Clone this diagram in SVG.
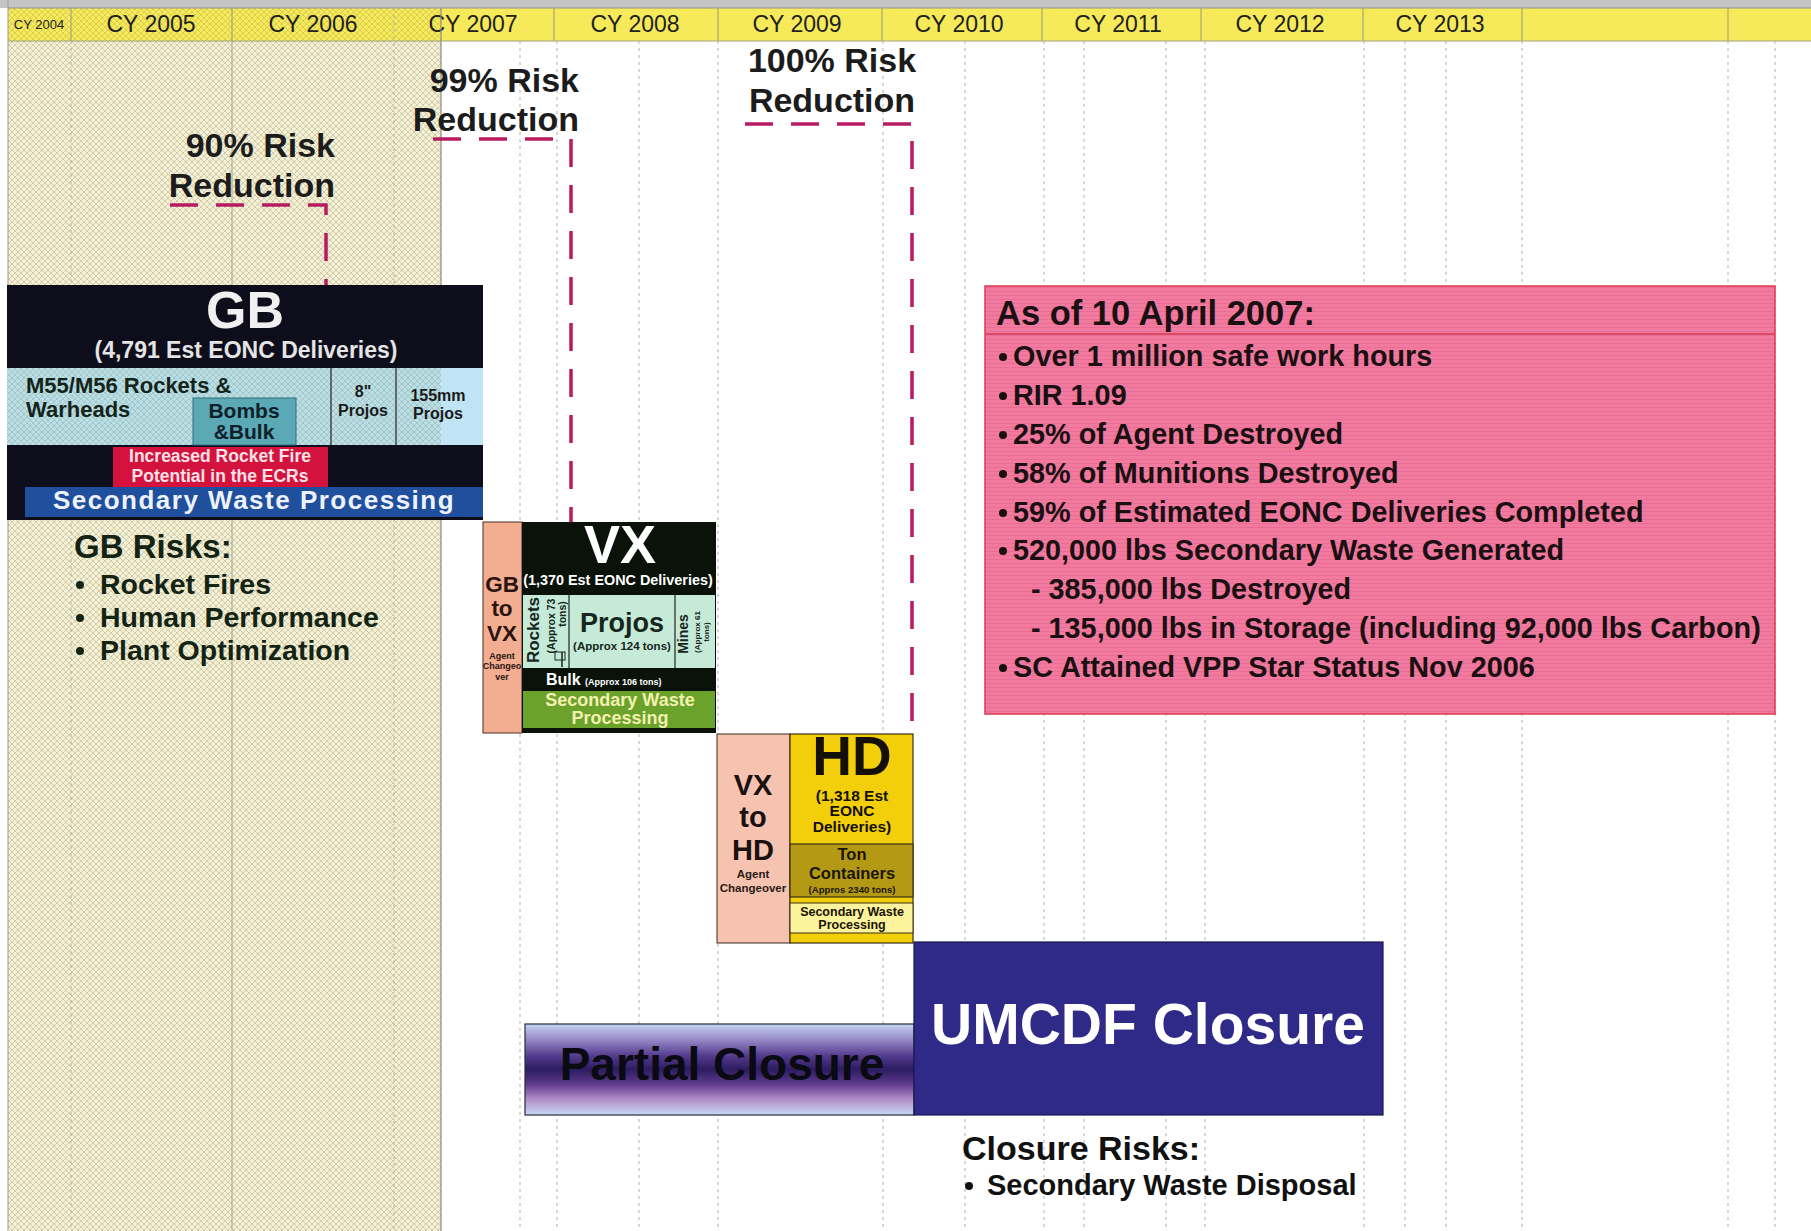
<svg xmlns="http://www.w3.org/2000/svg" width="1811" height="1231" viewBox="0 0 1811 1231">
<defs>
<pattern id="hatch" width="6" height="6" patternUnits="userSpaceOnUse"><rect width="6" height="6" fill="#f3f0d6"/><path d="M0 0L6 6M6 0L0 6" stroke="#cfcaa6" stroke-width="0.9"/></pattern>
<pattern id="hatchOver" width="6" height="6" patternUnits="userSpaceOnUse"><path d="M0 0L6 6M6 0L0 6" stroke="#000" stroke-opacity="0.13" stroke-width="0.9"/></pattern>
<pattern id="pinkTex" width="8" height="4" patternUnits="userSpaceOnUse"><rect width="8" height="4" fill="#f17a9e"/><rect y="3" width="8" height="1" fill="#e86e98"/></pattern>
<linearGradient id="partialGrad" x1="0" y1="0" x2="0" y2="1">
<stop offset="0" stop-color="#c4d4f2"/>
<stop offset="0.18" stop-color="#9484c4"/>
<stop offset="0.36" stop-color="#50388a"/>
<stop offset="0.5" stop-color="#2c1c60"/>
<stop offset="0.66" stop-color="#5e3a8e"/>
<stop offset="0.82" stop-color="#b08ac4"/>
<stop offset="1" stop-color="#c8daf4"/>
</linearGradient>
<style>
.b{font-family:"Liberation Sans",Arial,sans-serif;font-weight:bold}
.r{font-family:"Liberation Sans",Arial,sans-serif}
.m{text-anchor:middle}
.e{text-anchor:end}
.hdr{font-size:23px;fill:#222}
.grid{stroke:#b0b0b0;stroke-width:1;stroke-dasharray:3 4;fill:none}
.col{stroke:#9a9a80;stroke-width:1}
.risk{stroke:#b81a62;stroke-width:3.5;stroke-dasharray:28 18;fill:none}
.rlabel{font-size:34px;fill:#1c1c1c}
.pk{font-size:28.8px;fill:#1a1012}
.div{stroke:#222;stroke-width:1.2}
</style>
</defs>
<rect width="1811" height="1231" fill="#ffffff"/>
<rect x="8" y="41" width="433" height="1190" fill="url(#hatch)"/>
<g id="header">
<rect x="0" y="0" width="1811" height="8" fill="#c4c4c4"/>
<rect x="8" y="8" width="1803" height="33" fill="#f6ea5a"/>
<rect x="8" y="8" width="433" height="33" fill="url(#hatchOver)"/>
<line x1="8" y1="41" x2="1811" y2="41" stroke="#a0a080" stroke-width="1.2"/>
<line x1="8" y1="8" x2="1811" y2="8" stroke="#909090" stroke-width="1"/>
<g class="col">
<line x1="71" y1="8" x2="71" y2="41"/><line x1="232" y1="8" x2="232" y2="41"/>
<line x1="554" y1="8" x2="554" y2="41"/><line x1="718" y1="8" x2="718" y2="41"/>
<line x1="882" y1="8" x2="882" y2="41"/><line x1="1042" y1="8" x2="1042" y2="41"/>
<line x1="1201" y1="8" x2="1201" y2="41"/><line x1="1363" y1="8" x2="1363" y2="41"/>
<line x1="1522" y1="8" x2="1522" y2="41"/><line x1="1728" y1="8" x2="1728" y2="41"/>
</g>
<text x="39" y="29" class="r m" font-size="13" fill="#222">CY 2004</text>
<text x="151" y="32" class="r m hdr">CY 2005</text>
<text x="313" y="32" class="r m hdr">CY 2006</text>
<text x="473" y="32" class="r m hdr">CY 2007</text>
<text x="635" y="32" class="r m hdr">CY 2008</text>
<text x="797" y="32" class="r m hdr">CY 2009</text>
<text x="959" y="32" class="r m hdr">CY 2010</text>
<text x="1118" y="32" class="r m hdr">CY 2011</text>
<text x="1280" y="32" class="r m hdr">CY 2012</text>
<text x="1440" y="32" class="r m hdr">CY 2013</text>
</g>
<g id="gridlines">
<line x1="8" y1="0" x2="8" y2="1231" stroke="#9a9a9a" stroke-width="1"/>
<line x1="441" y1="8" x2="441" y2="1231" stroke="#8a8a80" stroke-width="1.2"/>
<line x1="232" y1="41" x2="232" y2="1231" stroke="#a8a490" stroke-width="1"/>
<line x1="71" y1="41" x2="71" y2="1231" class="grid"/>
<line x1="394" y1="8" x2="394" y2="1231" class="grid"/>
<g class="grid">
<line x1="520" y1="41" x2="520" y2="1231"/><line x1="557" y1="41" x2="557" y2="1231"/>
<line x1="639" y1="41" x2="639" y2="1231"/><line x1="718" y1="41" x2="718" y2="1231"/>
<line x1="883" y1="41" x2="883" y2="1231"/><line x1="965" y1="41" x2="965" y2="1231"/>
<line x1="1044" y1="41" x2="1044" y2="1231"/><line x1="1084" y1="41" x2="1084" y2="1231"/>
<line x1="1166" y1="41" x2="1166" y2="1231"/><line x1="1205" y1="41" x2="1205" y2="1231"/>
<line x1="1364" y1="41" x2="1364" y2="1231"/><line x1="1405" y1="41" x2="1405" y2="1231"/>
<line x1="1446" y1="41" x2="1446" y2="1231"/><line x1="1522" y1="41" x2="1522" y2="1231"/>
<line x1="1728" y1="41" x2="1728" y2="1231"/><line x1="1775" y1="41" x2="1775" y2="1231"/>
</g>
</g>
<g id="connectors">
<polyline class="risk" points="170,205 326,205 326,285"/>
<polyline class="risk" points="433,139 571,139 571,522"/>
<polyline class="risk" points="745,124 912,124 912,734"/>
</g>
<g id="label-90">
<text x="335" y="157" class="b e rlabel" fill="#1a2a1a">90% Risk</text>
<text x="335" y="197" class="b e rlabel" fill="#1a2a1a">Reduction</text>
</g>
<g id="label-99">
<text x="579" y="92" class="b e rlabel">99% Risk</text>
<text x="579" y="131" class="b e rlabel">Reduction</text>
</g>
<g id="label-100">
<text x="832" y="72" class="b m rlabel">100% Risk</text>
<text x="832" y="112" class="b m rlabel">Reduction</text>
</g>
<g id="node-gb">
<rect x="7" y="285" width="476" height="235" fill="#0d0d1c"/>
<text x="245" y="328" class="b m" font-size="52" fill="#f0f0f0">GB</text>
<text x="246" y="358" class="b m" font-size="23" fill="#e4e4e4">(4,791 Est EONC Deliveries)</text>
<rect x="7" y="368" width="434" height="77" fill="#b9dfe5"/>
<rect x="441" y="368" width="42" height="77" fill="#c0e4f3"/>
<rect x="7" y="368" width="434" height="77" fill="url(#hatchOver)"/>
<line x1="331" y1="368" x2="331" y2="445" class="div"/>
<line x1="396" y1="368" x2="396" y2="445" class="div"/>
<rect x="193" y="398" width="103" height="47" fill="#5aa9b5" stroke="#2f6f78" stroke-width="1"/>
<text x="26" y="393" class="b" font-size="22" fill="#14241a">M55/M56 Rockets &amp;</text>
<text x="26" y="417" class="b" font-size="22" fill="#14241a">Warheads</text>
<text x="244" y="418" class="b m" font-size="21" fill="#10202a">Bombs</text>
<text x="244" y="439" class="b m" font-size="21" fill="#10202a">&amp;Bulk</text>
<text x="363" y="397" class="b m" font-size="16" fill="#1a1a1a">8"</text>
<text x="363" y="416" class="b m" font-size="16" fill="#1a1a1a">Projos</text>
<text x="438" y="401" class="b m" font-size="16" fill="#1a1a1a">155mm</text>
<text x="438" y="419" class="b m" font-size="16" fill="#1a1a1a">Projos</text>
<rect x="113" y="447" width="215" height="40" fill="#d3133d"/>
<text x="220" y="462" class="b m" font-size="17.5" fill="#ffe2e8">Increased Rocket Fire</text>
<text x="220" y="482" class="b m" font-size="17.5" fill="#ffe2e8">Potential in the ECRs</text>
<rect x="25" y="487" width="458" height="30" fill="#1f4f9d"/>
<text x="254" y="509" class="b m" font-size="26" letter-spacing="1.5" fill="#eef2fa">Secondary Waste Processing</text>
</g>
<g id="node-gb-risks">
<text x="74" y="558" class="b" font-size="33" fill="#142414">GB Risks:</text>
<circle cx="80" cy="585" r="4" fill="#142414"/>
<text x="100" y="594" class="b" font-size="28.5" fill="#142414">Rocket Fires</text>
<circle cx="80" cy="618" r="4" fill="#142414"/>
<text x="100" y="627" class="b" font-size="28.5" fill="#142414">Human Performance</text>
<circle cx="80" cy="651" r="4" fill="#142414"/>
<text x="100" y="660" class="b" font-size="28.5" fill="#142414">Plant Optimization</text>
</g>
<g id="node-gb-to-vx">
<rect x="483" y="522" width="39" height="211" fill="#f3ad90" stroke="#4a3020" stroke-width="1"/>
<text x="502" y="592" class="b m" font-size="22.5" fill="#2a1410">GB</text>
<text x="502" y="616" class="b m" font-size="22.5" fill="#2a1410">to</text>
<text x="502" y="641" class="b m" font-size="22.5" fill="#2a1410">VX</text>
<text x="502" y="659" class="b m" font-size="9" fill="#2a1410">Agent</text>
<text x="502" y="669" class="b m" font-size="9" fill="#2a1410">Changeo</text>
<text x="502" y="680" class="b m" font-size="9" fill="#2a1410">ver</text>
</g>
<g id="node-vx">
<rect x="522" y="522" width="194" height="211" fill="#0a120a"/>
<text x="620" y="563" class="b m" font-size="54" fill="#ffffff">VX</text>
<text x="618" y="585" class="b m" font-size="14.4" fill="#ffffff">(1,370 Est EONC Deliveries)</text>
<rect x="523" y="595" width="192" height="73" fill="#c6ead8"/>
<line x1="569" y1="595" x2="569" y2="668" class="div"/>
<line x1="675" y1="595" x2="675" y2="668" class="div"/>
<text transform="translate(539,630) rotate(-90)" class="b m" font-size="17" fill="#16261c">Rockets</text>
<text transform="translate(555,626) rotate(-90)" class="b m" font-size="10.5" fill="#16261c">(Approx 73</text>
<text transform="translate(566,614) rotate(-90)" class="b m" font-size="10.5" fill="#16261c">tons)</text>
<rect x="555" y="652" width="10" height="8" fill="none" stroke="#16261c" stroke-width="1"/>
<line x1="562" y1="652" x2="562" y2="667" stroke="#16261c" stroke-width="1.5"/>
<text x="622" y="632" class="b m" font-size="27" fill="#16261c">Projos</text>
<text x="622" y="650" class="b m" font-size="11.5" fill="#16261c">(Approx 124 tons)</text>
<text transform="translate(688,634) rotate(-90)" class="b m" font-size="14" fill="#16261c">Mines</text>
<text transform="translate(700,632) rotate(-90)" class="b m" font-size="8" fill="#16261c">(Approx 61</text>
<text transform="translate(709,632) rotate(-90)" class="b m" font-size="8" fill="#16261c">tons)</text>
<text x="546" y="685" class="b" font-size="16" fill="#ffffff">Bulk</text>
<text x="585" y="685" class="b" font-size="9" fill="#ffffff">(Approx 106 tons)</text>
<rect x="523" y="691" width="192" height="37" fill="#6ba22c"/>
<text x="620" y="706" class="b m" font-size="18" fill="#f4f0b0">Secondary Waste</text>
<text x="620" y="724" class="b m" font-size="18" fill="#f4f0b0">Processing</text>
</g>
<g id="node-vx-to-hd">
<rect x="717" y="734" width="73" height="209" fill="#f6c3b1" stroke="#3a2a20" stroke-width="1"/>
<text x="753" y="795" class="b m" font-size="29" fill="#1a1010">VX</text>
<text x="753" y="827" class="b m" font-size="29" fill="#1a1010">to</text>
<text x="753" y="860" class="b m" font-size="29" fill="#1a1010">HD</text>
<text x="753" y="878" class="b m" font-size="11.5" fill="#2a1a14">Agent</text>
<text x="753" y="892" class="b m" font-size="11.5" fill="#2a1a14">Changeover</text>
</g>
<g id="node-hd">
<rect x="790" y="734" width="123" height="209" fill="#f2cf0a" stroke="#3a3010" stroke-width="1.2"/>
<text x="852" y="775" class="b m" font-size="55" fill="#141008">HD</text>
<text x="852" y="801" class="b m" font-size="15.5" fill="#141008">(1,318 Est</text>
<text x="852" y="816" class="b m" font-size="15.5" fill="#141008">EONC</text>
<text x="852" y="832" class="b m" font-size="15.5" fill="#141008">Deliveries)</text>
<rect x="790" y="844" width="123" height="53" fill="#b49a14" stroke="#3a3010" stroke-width="1.2"/>
<text x="852" y="860" class="b m" font-size="16.5" fill="#1a1404">Ton</text>
<text x="852" y="879" class="b m" font-size="16.5" fill="#1a1404">Containers</text>
<text x="852" y="893" class="b m" font-size="9.6" fill="#1a1404">(Appros 2340 tons)</text>
<rect x="790" y="903" width="123" height="30" fill="#fcf39c" stroke="#3a3010" stroke-width="1"/>
<text x="852" y="916" class="b m" font-size="12.5" fill="#1a1404">Secondary Waste</text>
<text x="852" y="929" class="b m" font-size="12.5" fill="#1a1404">Processing</text>
</g>
<g id="node-partial-closure">
<rect x="525" y="1024" width="389" height="91" fill="url(#partialGrad)" stroke="#2a2a3a" stroke-width="1.2"/>
<text x="722" y="1080" class="b m" font-size="46" fill="#0a0a12">Partial Closure</text>
</g>
<g id="node-umcdf-closure">
<rect x="914" y="942" width="469" height="173" fill="#2f2a88" stroke="#1a1850" stroke-width="1.2"/>
<text x="1148" y="1044" class="b m" font-size="57" fill="#ffffff">UMCDF Closure</text>
</g>
<g id="node-closure-risks">
<text x="962" y="1160" class="b" font-size="34" fill="#111">Closure Risks:</text>
<circle cx="969" cy="1186" r="4" fill="#111"/>
<text x="987" y="1195" class="b" font-size="29" fill="#111">Secondary Waste Disposal</text>
</g>
<g id="node-status">
<rect x="985" y="286" width="790" height="428" fill="url(#pinkTex)" stroke="#e03a4e" stroke-width="1.5"/>
<line x1="985" y1="334" x2="1775" y2="334" stroke="#d43a50" stroke-width="1.5"/>
<text x="996" y="325" class="b" font-size="34.5" fill="#1a1012">As of 10 April 2007:</text>
<g fill="#1a1012">
<circle cx="1003" cy="357" r="4"/><circle cx="1003" cy="396" r="4"/><circle cx="1003" cy="435" r="4"/>
<circle cx="1003" cy="474" r="4"/><circle cx="1003" cy="513" r="4"/><circle cx="1003" cy="551" r="4"/>
<circle cx="1003" cy="668" r="4"/>
</g>
<text x="1013" y="366" class="b pk">Over 1 million safe work hours</text>
<text x="1013" y="405" class="b pk">RIR 1.09</text>
<text x="1013" y="444" class="b pk">25% of Agent Destroyed</text>
<text x="1013" y="483" class="b pk">58% of Munitions Destroyed</text>
<text x="1013" y="522" class="b pk">59% of Estimated EONC Deliveries Completed</text>
<text x="1013" y="560" class="b pk">520,000 lbs Secondary Waste Generated</text>
<text x="1031" y="599" class="b pk">- 385,000 lbs Destroyed</text>
<text x="1031" y="638" class="b pk">- 135,000 lbs in Storage (including 92,000 lbs Carbon)</text>
<text x="1013" y="677" class="b pk">SC Attained VPP Star Status Nov 2006</text>
</g>
</svg>
